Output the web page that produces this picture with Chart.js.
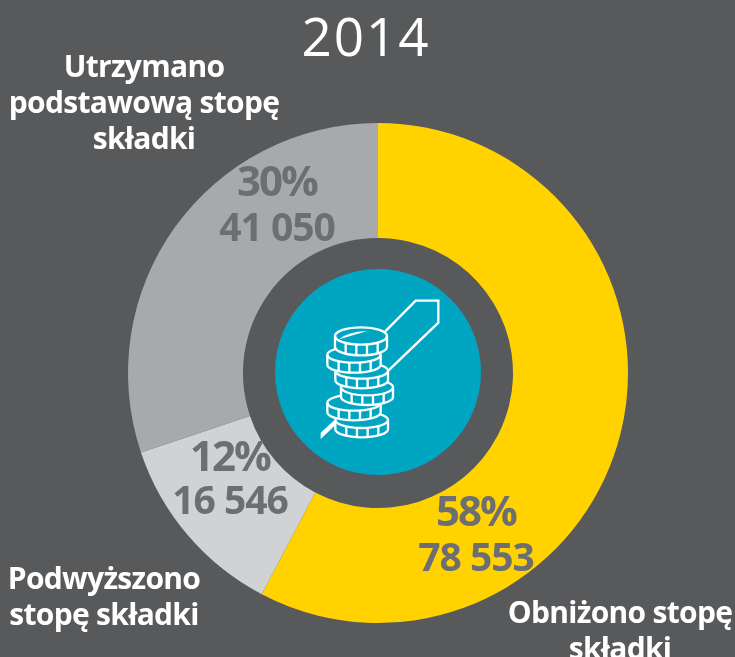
<!DOCTYPE html>
<html>
<head>
<meta charset="utf-8">
<style>
html, body { margin: 0; padding: 0; background: #58595b; }
#wrap { position: relative; width: 735px; height: 657px; overflow: hidden; }
</style>
<script src="https://cdn.jsdelivr.net/npm/chart.js@4"></script>
</head>
<body>
<div id="wrap"><canvas id="donut" width="735" height="657"></canvas></div>
<script>
const yearLabel = '2014';
const categories = ['Obniżono stopę składki', 'Podwyższono stopę składki', 'Utrzymano podstawową stopę składki'];
const values = [78553, 16546, 41050];
const percentLabels = ['58%', '12%', '30%'];
const valueLabels = ['78 553', '16 546', '41 050'];
const sliceColors = ['#ffd200', '#d1d2d4', '#a7a9ac'];

// category labels, broken the way the picture breaks them
const categoryLines = [
    { lines: ['Obniżono stopę', 'składki'], x: 620, y: 614 },
    { lines: ['Podwyższono', 'stopę składki'], x: 104, y: 580 },
    { lines: ['Utrzymano', 'podstawową stopę', 'składki'], x: 144, y: 68 }
];
const insideLabels = [
    { x: 476, pctY: 514, valY: 560 },
    { x: 230, pctY: 459, valY: 503 },
    { x: 277, pctY: 184, valY: 230 }
];

function drawCoin(ctx, cx, cy, rx, ry, h, ticks) {
    // body of the coin, filled so it hides the coin below
    ctx.beginPath();
    ctx.ellipse(cx, cy + h, rx, ry, 0, 0, Math.PI);
    ctx.lineTo(cx - rx, cy);
    ctx.ellipse(cx, cy, rx, ry, 0, Math.PI, Math.PI * 2);
    ctx.closePath();
    ctx.fill();
    ctx.stroke();
    // face of the coin
    ctx.beginPath();
    ctx.ellipse(cx, cy, rx, ry, 0, 0, Math.PI);
    ctx.stroke();
    ticks.forEach(function(dx) {
        const off = ry * Math.sqrt(1 - (dx / rx) * (dx / rx));
        ctx.beginPath();
        ctx.moveTo(cx + dx, cy + off);
        ctx.lineTo(cx + dx, cy + off + h);
        ctx.stroke();
    });
}

function drawIcon(ctx, cx, cy) {
    ctx.save();
    ctx.beginPath();
    ctx.arc(cx, cy - 1, 103, 0, Math.PI * 2);
    ctx.fillStyle = '#00a6c1';
    ctx.fill();

    // coordinates below are the 3x crop of the icon box
    ctx.translate(260, 250);
    ctx.scale(1 / 3, 1 / 3);
    ctx.strokeStyle = '#ffffff';
    ctx.fillStyle = '#00a6c1';
    ctx.lineWidth = 7;
    ctx.lineJoin = 'miter';

    ctx.beginPath();
    ctx.moveTo(375, 245);
    ctx.lineTo(467, 152);
    ctx.lineTo(535, 152);
    ctx.lineTo(535, 218);
    ctx.lineTo(385, 362);
    ctx.stroke();

    ctx.save();
    ctx.fillStyle = '#ffffff';
    ctx.beginPath();
    ctx.moveTo(226, 508);
    ctx.lineTo(182, 548);
    ctx.lineTo(182, 567);
    ctx.lineTo(236, 516);
    ctx.closePath();
    ctx.fill();
    ctx.restore();

    const ticks = [-46, -14, 18, 50];
    drawCoin(ctx, 305, 510, 79, 24, 28, ticks);
    drawCoin(ctx, 282, 458, 80, 24, 29, ticks);
    drawCoin(ctx, 321, 412, 78, 24, 29, ticks);
    drawCoin(ctx, 305, 362, 79, 24, 29, ticks);
    drawCoin(ctx, 282, 314, 80, 24, 30, ticks);
    drawCoin(ctx, 303, 258, 78, 26, 32, ticks);

    ctx.fillStyle = '#ffffff';
    ctx.beginPath();
    ctx.moveTo(238, 268);
    ctx.quadraticCurveTo(262, 245, 322, 243);
    ctx.closePath();
    ctx.fill();
    ctx.restore();
}

function spacedText(ctx, text, x, y, spacing) {
    ctx.letterSpacing = spacing + 'px';
    ctx.fillText(text, x, y);
    ctx.letterSpacing = '0px';
}

const overlayPlugin = {
    id: 'overlay',
    afterDraw: function(chart) {
        const ctx = chart.ctx;
        const arc = chart.getDatasetMeta(0).data[0];
        drawIcon(ctx, arc.x, arc.y);

        ctx.save();
        ctx.textAlign = 'center';
        ctx.textBaseline = 'middle';

        ctx.fillStyle = '#ffffff';
        ctx.font = '400 53px "Open Sans"';
        spacedText(ctx, yearLabel, 366, 41, 2);

        ctx.font = 'bold 30px "Open Sans"';
        categoryLines.forEach(function(item) {
            item.lines.forEach(function(line, i) {
                spacedText(ctx, line, item.x, item.y + i * 36, -0.7);
            });
        });

        ctx.fillStyle = '#6d6e71';
        insideLabels.forEach(function(item, i) {
            ctx.font = 'bold 42px "Open Sans"';
            spacedText(ctx, percentLabels[i], item.x, item.pctY, -2);
            ctx.font = 'bold 39px "Open Sans"';
            spacedText(ctx, valueLabels[i], item.x, item.valY, -1);
        });
        ctx.restore();
    }
};

new Chart(document.getElementById('donut').getContext('2d'), {
    type: 'doughnut',
    data: {
        labels: categories,
        datasets: [{
            data: values,
            backgroundColor: sliceColors,
            borderWidth: 0
        }]
    },
    options: {
        responsive: false,
        animation: false,
        cutout: '54%',
        layout: { padding: { left: 128, right: 107, top: 123, bottom: 34 } },
        plugins: {
            legend: { display: false },
            tooltip: { enabled: false }
        }
    },
    plugins: [overlayPlugin]
});
</script>
</body>
</html>
